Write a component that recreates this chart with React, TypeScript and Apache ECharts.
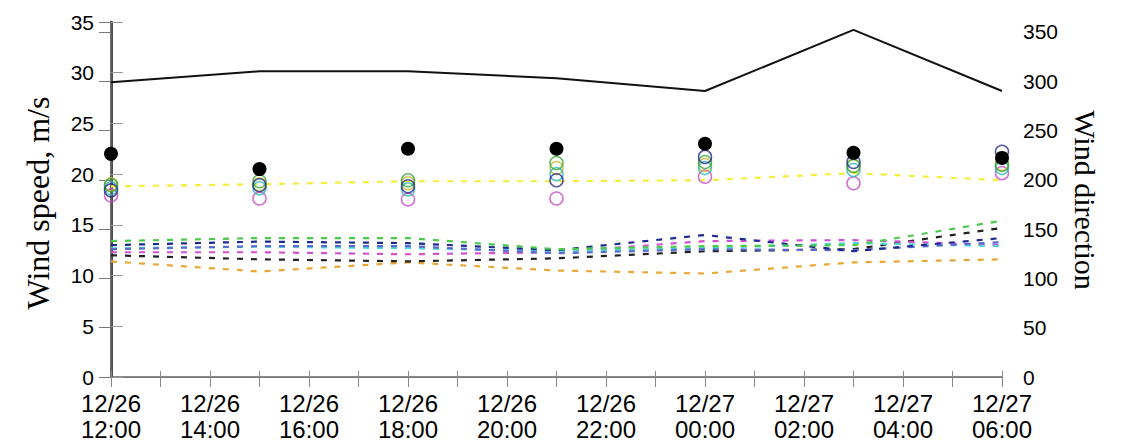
import React, { useEffect, useRef } from "react";
import * as echarts from "echarts";

// hours after 12/26 12:00
const hours = [0, 3, 6, 9, 12, 15, 18];
const xTickLabels = [
  "12/26\n12:00", "12/26\n14:00", "12/26\n16:00", "12/26\n18:00", "12/26\n20:00",
  "12/26\n22:00", "12/27\n00:00", "12/27\n02:00", "12/27\n04:00", "12/27\n06:00",
];

// wind direction (deg, right axis)
const windDirection = [299, 310, 310, 303, 290, 352, 290];

// modelled wind speed, dashed lines (m/s)
const lineYellow = [18.8, 19.0, 19.3, 19.3, 19.4, 20.1, 19.4];
const lineGreen = [13.4, 13.7, 13.7, 12.6, 12.9, 13.0, 15.4];
const lineNavy = [13.0, 13.35, 13.2, 12.5, 14.0, 12.4, 13.7];
const lineBlue = [12.6, 12.9, 12.9, 12.2, 12.6, 12.5, 13.3];
const lineCyan = [12.7, 12.85, 12.7, 12.4, 12.7, 13.2, 12.9];
const lineMagenta = [12.3, 12.3, 12.1, 12.3, 13.4, 13.5, 13.0];
const lineBlack = [12.0, 11.6, 11.4, 11.7, 12.4, 12.6, 14.7];
const lineOrange = [11.4, 10.4, 11.3, 10.5, 10.2, 11.3, 11.6];

// point values (m/s)
const obsBlack = [22.0, 20.5, 22.5, 22.5, 23.0, 22.1, 21.6];
const ptGreen = [18.9, 19.3, 19.4, 21.1, 21.2, 20.8, 20.9];
const ptNavy = [18.4, 18.9, 18.8, 19.4, 21.7, 21.2, 22.2];
const ptCyan = [18.6, 18.6, 18.5, 20.0, 20.6, 20.4, 20.6];
const ptOlive = [19.0, 19.0, 19.1, 20.6, 20.9, 20.8, 21.0];
const ptMagenta = [17.9, 17.6, 17.5, 17.6, 19.75, 19.1, 20.1];

const pair = (arr: number[]) => arr.map((v, i) => [hours[i], v]);

export default function App() {
  const ref = useRef<HTMLDivElement>(null);
  useEffect(() => {
    const chart = echarts.init(ref.current!, undefined, { renderer: "svg" });
    const dashed = (data: number[], color: string) => ({
      type: "line",
      data: pair(data),
      symbol: "none",
      lineStyle: { color, width: 2.2, type: [6, 8] },
      z: 2,
    });
    const ring = (data: number[], color: string) => ({
      type: "scatter",
      data: pair(data),
      symbol: "circle",
      symbolSize: 13,
      itemStyle: { color: "rgba(0,0,0,0)", borderColor: color, borderWidth: 1.5 },
      z: 4,
    });
    chart.setOption({
      animation: false,
      backgroundColor: "#fff",
      grid: { left: 111, right: 120, top: 22, bottom: 67 },
      xAxis: [
        {
          type: "value",
          min: 0,
          max: 18,
          interval: 1,
          axisLine: { show: true, lineStyle: { color: "#666", width: 1.5 } },
          axisTick: { show: true, inside: true, length: 6, lineStyle: { color: "#888" } },
          splitLine: { show: false },
          axisLabel: {
            margin: 13,
            fontSize: 24,
            lineHeight: 26,
            color: "#000",
            fontFamily: "Liberation Sans",
            formatter: (v: number) => (v % 2 === 0 ? xTickLabels[v / 2] : ""),
          },
        },
        {
          type: "value",
          position: "top",
          min: 0,
          max: 18,
          interval: 1,
          axisLine: { show: true, lineStyle: { color: "#777", width: 1 } },
          axisTick: { show: true, inside: true, length: 10, lineStyle: { color: "#888" } },
          axisLabel: { show: false },
          splitLine: { show: false },
        },
      ],
      yAxis: [
        {
          type: "value",
          min: 0,
          max: 35,
          interval: 5,
          axisLine: { show: true, lineStyle: { color: "#111", width: 2.5 } },
          axisTick: { show: true, inside: true, length: 12, lineStyle: { color: "#999" } },
          splitLine: { show: false },
          axisLabel: { margin: 17, fontSize: 21, color: "#000", fontFamily: "Liberation Sans" },
        },
        {
          type: "value",
          min: 0,
          max: 360,
          interval: 50,
          position: "right",
          axisLine: { show: true, lineStyle: { color: "#777", width: 1.5 } },
          axisTick: { show: true, inside: true, length: 12, lineStyle: { color: "#777" } },
          splitLine: { show: false },
          axisLabel: {
            margin: 21,
            fontSize: 21,
            color: "#000",
            fontFamily: "Liberation Sans",
            formatter: (v: number) => (v > 350 ? "" : String(v)),
          },
        },
      ],
      graphic: [
        {
          type: "text",
          x: 38,
          y: 203,
          rotation: Math.PI / 2,
          style: {
            text: "Wind speed, m/s",
            font: '32px "Liberation Serif"',
            align: "center",
            verticalAlign: "middle",
            fill: "#000",
          },
        },
        {
          type: "text",
          x: 1085,
          y: 200,
          rotation: -Math.PI / 2,
          style: {
            text: "Wind direction",
            font: '30px "Liberation Serif"',
            align: "center",
            verticalAlign: "middle",
            fill: "#000",
          },
        },
      ],
      series: [
        dashed(lineYellow, "#f2ee3a"),
        dashed(lineOrange, "#e8a838"),
        dashed(lineBlack, "#222222"),
        dashed(lineMagenta, "#d24fd2"),
        dashed(lineCyan, "#4fd8d8"),
        dashed(lineBlue, "#5a6ad0"),
        dashed(lineNavy, "#1c2a90"),
        dashed(lineGreen, "#4cc84c"),
        {
          type: "line",
          yAxisIndex: 1,
          data: pair(windDirection),
          symbol: "none",
          lineStyle: { color: "#111", width: 2 },
          z: 3,
        },
        ring(ptMagenta, "#c848c8"),
        ring(ptOlive, "#c8b830"),
        ring(ptCyan, "#30b8b8"),
        ring(ptGreen, "#38a838"),
        ring(ptNavy, "#242a88"),
        {
          type: "scatter",
          data: pair(obsBlack),
          symbol: "circle",
          symbolSize: 14,
          itemStyle: { color: "#000", opacity: 1 },
          z: 5,
        },
      ],
    });
    return () => chart.dispose();
  }, []);
  return (
    <div
      ref={ref}
      style={{ position: "fixed", left: 0, top: 0, width: 1122, height: 444, background: "#fff" }}
    />
  );
}
